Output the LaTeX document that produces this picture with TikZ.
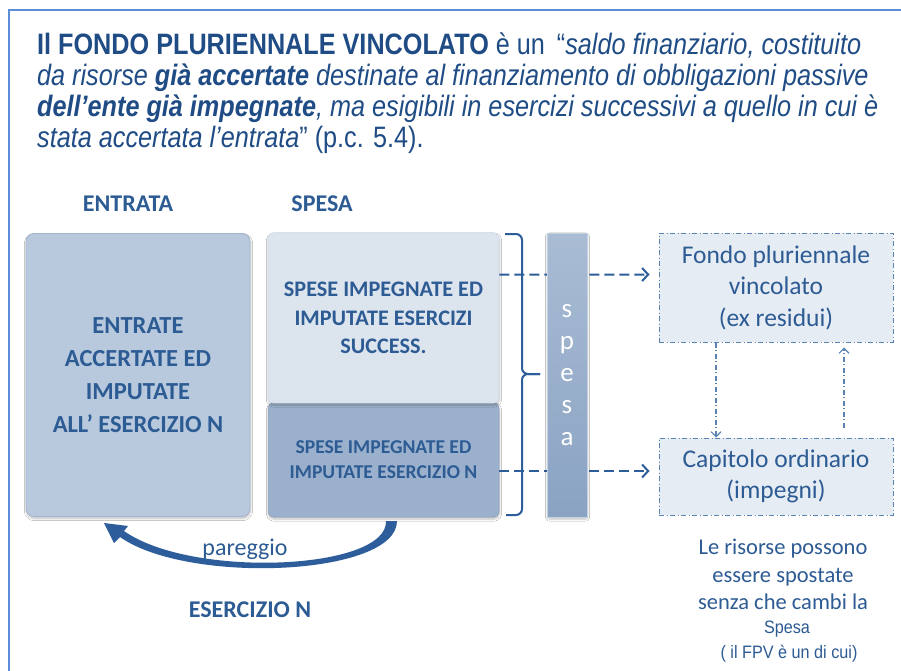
\documentclass[tikz,border=0pt]{standalone}
\usepackage{fontspec}
\setmainfont{Liberation Sans}
\newfontfamily\narrowf[FakeStretch=0.855]{Liberation Sans}
\newfontfamily\smallnarrow[FakeStretch=0.9]{Liberation Sans}
\newfontfamily\calf{Carlito}
\usetikzlibrary{arrows.meta,shadows.blur}
\definecolor{framec}{HTML}{5B8DD9}
\definecolor{titleblue}{HTML}{1F4C85}
\definecolor{txtblue}{HTML}{2D5B93}
\definecolor{leftfill}{HTML}{B8C9DE}
\definecolor{leftdraw}{HTML}{A3B6CE}
\definecolor{topfill}{HTML}{DCE4EE}
\definecolor{botfill}{HTML}{9AB0CC}
\definecolor{barTop}{HTML}{A9BCD4}
\definecolor{barBot}{HTML}{8AA3C3}
\definecolor{fpvfill}{HTML}{E6ECF4}
\definecolor{fpvdraw}{HTML}{5A82B3}
\definecolor{arrowblue}{HTML}{2E5D9B}
\begin{document}
\begin{tikzpicture}[x=1pt,y=-1pt,
  titlef/.style={font=\narrowf\fontsize{29.5}{31}\selectfont, text=titleblue, anchor=base west, inner sep=0pt},
  hdr/.style={font=\calf\bfseries\fontsize{24}{28}\selectfont, text=txtblue, anchor=base, inner sep=0pt},
  softshadow/.style={blur shadow={shadow blur steps=6, shadow xshift=0.5pt, shadow yshift=-2pt, shadow opacity=25, shadow blur extra rounding=2pt}},
  entbox/.style={rounded corners=8pt, fill=leftfill, draw=leftdraw, line width=0.8pt, minimum width=224pt, minimum height=283pt, align=center, inner sep=0pt, text=txtblue, font=\calf\bfseries\fontsize{24.5}{33}\selectfont, softshadow},
  supbox/.style={rounded corners=5pt, fill=topfill, draw=topfill!85!leftdraw, line width=0.8pt, minimum width=231pt, minimum height=170pt, align=center, inner sep=0pt, text=txtblue, font=\calf\bfseries\fontsize{22.2}{28.5}\selectfont, softshadow},
  infbox/.style={rounded corners=5pt, fill=botfill, draw=botfill!90!black, line width=0.5pt, minimum width=231pt, minimum height=114pt, align=center, inner sep=0pt, text=txtblue, font=\calf\bfseries\fontsize{19.6}{25}\selectfont, softshadow},
  barbox/.style={top color=barTop, bottom color=barBot, draw=barTop!70!white, line width=0.8pt, minimum width=40pt, minimum height=284pt, align=center, inner sep=0pt, text=white, font=\calf\fontsize{27}{32}\selectfont, softshadow},
  fvbox/.style={fill=fpvfill, draw=fpvdraw, line width=1pt, dash pattern=on 5pt off 2.5pt on 1pt off 2.5pt, minimum width=234pt, align=center, inner sep=0pt, text=txtblue, font=\calf\fontsize{25.5}{31.5}\selectfont},
  dasharrow/.style={draw=arrowblue, line width=2pt, dash pattern=on 10pt off 5pt, -{Straight Barb[length=6pt,width=13pt]}},
  vdash/.style={draw=fpvdraw, line width=1.1pt, dash pattern=on 5pt off 2.5pt on 1pt off 2.5pt, -{Straight Barb[length=5pt,width=10pt]}},
  bracec/.style={draw=arrowblue, line width=2pt, rounded corners=6pt},
  notef/.style={font=\calf\fontsize{22.5}{27}\selectfont, text=txtblue, anchor=base, inner sep=0pt},
  smallf/.style={font=\smallnarrow\fontsize{18}{22}\selectfont, text=txtblue, anchor=base, inner sep=0pt}
]
\useasboundingbox (0,0) rectangle (901,671);
\fill[white] (0,0) rectangle (901,671);
% frame
\draw[framec, line width=2pt] (9,671) -- (9,10) -- (901,10);

% title
\node[titlef] (t1) at (37,55) {\textbf{Il FONDO PLURIENNALE VINCOLATO} è un \,“\textit{saldo finanziario, costituito}};
\node[titlef] (t2) at (37,86) {\textit{da risorse \textbf{già accertate} destinate al finanziamento di obbligazioni passive}};
\node[titlef] (t3) at (37,117) {\textit{\textbf{dell’ente già impegnate}, ma esigibili in esercizi successivi a quello in cui è}};
\node[titlef] (t4) at (37,148) {\textit{stata accertata l’entrata}” (p.c. 5.4).};

% headers
\node[hdr] (hE) at (128,211) {ENTRATA};
\node[hdr] (hS) at (322,211) {SPESA};

% boxes
\node[entbox] (ent) at (138,375) {ENTRATE\\ACCERTATE ED\\IMPUTATE\\ALL’ ESERCIZIO N};
\node[infbox] (inf) at (383.5,460) {SPESE IMPEGNATE ED\\IMPUTATE ESERCIZIO N};
\node[supbox] (sup) at (383.5,318) {SPESE IMPEGNATE ED\\IMPUTATE ESERCIZI\\SUCCESS.};

\node[fvbox, minimum height=109pt] (fpv) at (776,287.5) {Fondo pluriennale\\vincolato\\(ex residui)};
\node[fvbox, minimum height=77pt] (cap) at (776,476.5) {Capitolo ordinario\\(impegni)};

% dashed arrows
\draw[dasharrow] ([yshift=-42pt]sup.north east) -- ([yshift=-42pt,xshift=-9pt]fpv.north west);
\draw[dasharrow] ([yshift=-11pt]inf.east) -- ([yshift=5.5pt,xshift=-9pt]cap.west);

% vertical arrows
\draw[vdash] ([xshift=-60pt]fpv.south) -- ([xshift=-60pt]cap.north);
\draw[vdash] ([xshift=68pt,yshift=10pt]cap.north) -- ([xshift=68pt,yshift=-5pt]fpv.south);

% brace
\draw[bracec] (505,234) -- (522,234) -- (522,374) -- (540,374);
\draw[bracec] (506,515) -- (522,515) -- (522,374) -- (540,374);

% spesa bar
\node[barbox] (bar) at (567,375) {s\\p\\e\\s\\a};

% pareggio arrow
\fill[arrowblue] (397,521) .. controls (397,576) and (188,585) .. (120,537)
  -- (114,543) -- (104,523) -- (128,526) -- (124,531)
  .. controls (192,579) and (388,570) .. (386,521) -- cycle;
\node[notef, font=\calf\fontsize{24}{28}\selectfont] (par) at (245,555) {pareggio};
\node[hdr] (es) at (250,617) {ESERCIZIO N};

% right note
\node[notef] (n1) at (783,554) {Le risorse possono};
\node[notef] (n2) at (783,582) {essere spostate};
\node[notef] (n3) at (783,609) {senza che cambi la};
\node[smallf] (n4) at (787,633) {Spesa};
\node[smallf] (n5) at (789,658.5) {( il FPV è un di cui)};
\end{tikzpicture}
\end{document}
